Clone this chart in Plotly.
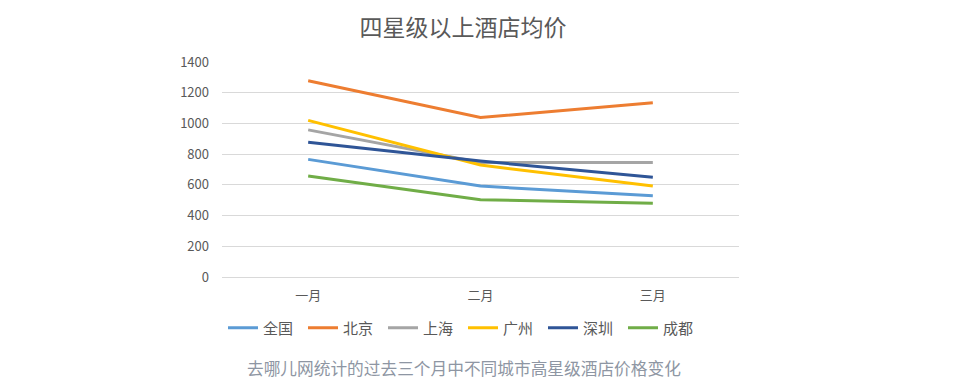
import plotly.graph_objects as go

months = ["一月", "二月", "三月"]
series_names = ["全国", "北京", "上海", "广州", "深圳", "成都"]
quanguo = [766, 592, 529]
beijing = [1278, 1038, 1135]
shanghai = [958, 745, 745]
guangzhou = [1020, 729, 592]
shenzhen = [877, 755, 649]
chengdu = [657, 503, 480]
y_ticks = [0, 200, 400, 600, 800, 1000, 1200, 1400]

values = [quanguo, beijing, shanghai, guangzhou, shenzhen, chengdu]
colors = ["#5B9BD5", "#ED7D31", "#A5A5A5", "#FFC000", "#2F5597", "#70AD47"]

font_family = "Noto Sans CJK SC, Microsoft YaHei, sans-serif"

fig = go.Figure()
for name, vals, c in zip(series_names, values, colors):
    fig.add_trace(go.Scatter(x=months, y=vals, name=name, mode="lines",
                             line=dict(color=c, width=3)))

fig.update_layout(
    width=953, height=390,
    margin=dict(l=214, r=222, t=54, b=121),
    paper_bgcolor="white", plot_bgcolor="white",
    font=dict(family=font_family, color="#595959", size=12),
    title=dict(text="四星级以上酒店均价", x=(463 - 8) / 953, xanchor="center", y=1 - 20 / 390,
               yanchor="middle", font=dict(size=23, color="#595959", family=font_family)),
    showlegend=True,
    legend=dict(orientation="h", x=(463 - 222) / 517, xanchor="center", y=-0.237, yanchor="middle",
                font=dict(size=15, color="#595959"), itemwidth=30, tracegroupgap=0,
                entrywidth=35, entrywidthmode="pixels"),
    xaxis=dict(type="category", range=[-0.5, 2.5], showgrid=False, showline=False,
               ticks="", ticklabelstandoff=9, tickfont=dict(size=13, color="#595959"),
               fixedrange=True),
    yaxis=dict(range=[0, 1400], tickvals=y_ticks, showgrid=True, gridcolor="#D9D9D9",
               gridwidth=1, zeroline=True, zerolinecolor="#D9D9D9", zerolinewidth=1,
               showline=False, ticks="", ticklen=0, ticklabelstandoff=12,
               tickfont=dict(size=13, color="#595959")),
)
fig.add_annotation(text="去哪儿网统计的过去三个月中不同城市高星级酒店价格变化",
                   xref="paper", yref="paper", x=(464 - 222) / 517, y=-0.423, xanchor="center",
                   yanchor="middle", showarrow=False,
                   font=dict(size=16.7, color="#8E96A3", family=font_family))

fig.write_html("out.html")
